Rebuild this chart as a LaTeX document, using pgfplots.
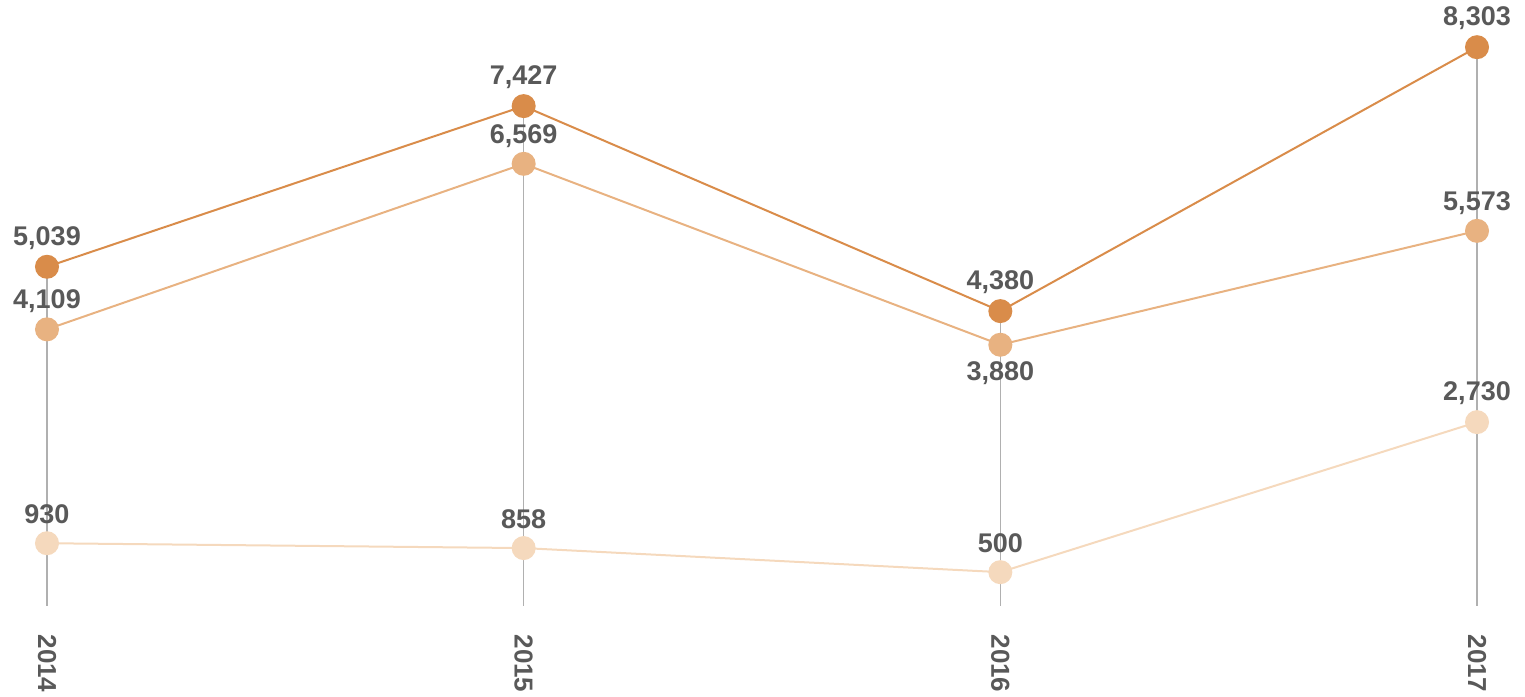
\documentclass[border=0pt]{standalone}
\usepackage{pgfplots}
\pgfplotsset{compat=1.18}
\usepackage{pgfplotstable}
\usepackage{fontspec}
\setmainfont{Liberation Sans}
\definecolor{cdark}{HTML}{D98C4A}
\definecolor{cmed}{HTML}{E8B281}
\definecolor{clight}{HTML}{F5D9BD}
\definecolor{ctext}{HTML}{595959}
\definecolor{cgrid}{HTML}{B0B0B0}
\pgfplotstableread{
x y pos
0 5039 1
1 7427 1
2 4380 1
3 8303 1
}\dark
\pgfplotstableread{
x y pos
0 4109 1
1 6569 1
2 3880 -1
3 5573 1
}\med
\pgfplotstableread{
x y pos
0 930 1
1 858 1
2 500 1
3 2730 1
}\light
\pgfplotstableread{
x y
0 5039
1 7427
2 4380
3 8303
}\stems
\begin{document}
\begin{tikzpicture}
\begin{axis}[
  scale only axis,
  width=762.5pt, height=348pt,
  xmin=-0.0986, xmax=3.1007,
  ymin=-1344, ymax=9001,
  clip=false,
  axis line style={draw=none},
  major tick length=0pt,
  ytick=\empty,
  xtick={0,1,2,3},
  xticklabels={2014,2015,2016,2017},
  xticklabel style={rotate=-90, anchor=west, inner sep=0pt, xshift=-31pt,
    font=\fontsize{13}{15}\selectfont\bfseries, text=ctext},
  /pgf/number format/assume math mode=true,
  every node near coord/.append style={font=\fontsize{13.5}{16}\selectfont\bfseries, text=ctext, anchor=center},
]
\addplot[ycomb, cgrid, line width=0.7pt, mark=none] table[x=x,y=y] {\stems};
\addplot[clight, line width=1pt, mark=*, mark size=5.5pt, mark options={fill=clight, draw=none},
  nodes near coords={\pgfmathprintnumber[fixed, 1000 sep={,}, assume math mode=true]{\pgfplotspointmeta}},
  point meta=explicit,
  visualization depends on={\thisrow{pos} \as \pos},
  every node near coord/.append style={yshift=\pos*14.5pt}]
  table[x=x,y=y,meta=y] {\light};
\addplot[cmed, line width=1pt, mark=*, mark size=5.5pt, mark options={fill=cmed, draw=none},
  nodes near coords={\pgfmathprintnumber[fixed, 1000 sep={,}, assume math mode=true]{\pgfplotspointmeta}},
  point meta=explicit,
  visualization depends on={\thisrow{pos} \as \pos},
  every node near coord/.append style={yshift=\pos*14pt}]
  table[x=x,y=y,meta=y] {\med};
\addplot[cdark, line width=1pt, mark=*, mark size=5.5pt, mark options={fill=cdark, draw=none},
  nodes near coords={\pgfmathprintnumber[fixed, 1000 sep={,}, assume math mode=true]{\pgfplotspointmeta}},
  point meta=explicit,
  visualization depends on={\thisrow{pos} \as \pos},
  every node near coord/.append style={yshift=\pos*14.5pt}]
  table[x=x,y=y,meta=y] {\dark};
\end{axis}
\end{tikzpicture}
\end{document}
